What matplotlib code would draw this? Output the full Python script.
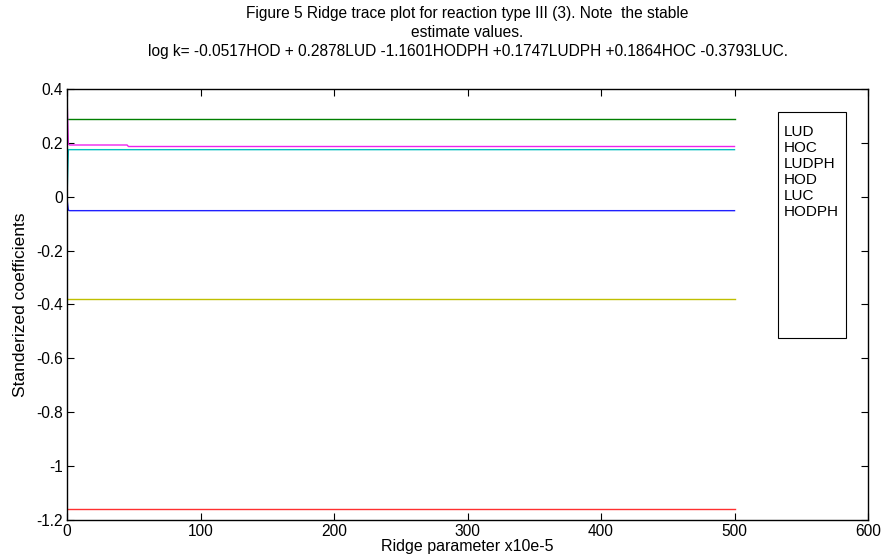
import matplotlib
matplotlib.use("Agg")
import matplotlib.pyplot as plt
from matplotlib.patches import Rectangle

plt.rcParams['font.family'] = ['Liberation Sans', 'DejaVu Sans']

# Ridge parameter (x10e-5)
k = [0, 1, 2, 45, 46, 500]

names = ["LUD", "HOC", "LUDPH", "HOD", "LUC", "HODPH"]
LUD = [0.2878, 0.2878, 0.2878, 0.2878, 0.2878, 0.2878]
HOC = [0.37, 0.196, 0.192, 0.192, 0.1864, 0.1864]
LUDPH = [0.0, 0.175, 0.1747, 0.1747, 0.1747, 0.1747]
HOD = [-0.01, -0.05, -0.0517, -0.0517, -0.0517, -0.0517]
LUC = [-0.3793, -0.3793, -0.3793, -0.3793, -0.3793, -0.3793]
HODPH = [-1.1601, -1.1601, -1.1601, -1.1601, -1.1601, -1.1601]

series = [LUD, HOC, LUDPH, HOD, LUC, HODPH]
colors = ["#007f00", "#ee22ee", "#00bfbf", "#2020ff", "#bfbf00", "#ff3030"]

title = ("Figure 5 Ridge trace plot for reaction type III (3). Note  the stable\n"
         "estimate values.\n"
         "log k= -0.0517HOD + 0.2878LUD -1.1601HODPH +0.1747LUDPH +0.1864HOC -0.3793LUC.")

fig = plt.figure(figsize=(8.89, 5.56), dpi=100)
ax = fig.add_axes([0.0754, 0.0647, 0.9010, 0.7753])

for s, c in zip(series, colors):
    ax.plot(k, s, color=c, lw=1.0)

ax.set_xlim(0, 600)
ax.set_ylim(-1.2, 0.4)
ax.set_xticks([0, 100, 200, 300, 400, 500, 600])
ax.set_yticks([-1.2, -1, -0.8, -0.6, -0.4, -0.2, 0, 0.2, 0.4])
ax.set_yticklabels(["-1.2", "-1", "-0.8", "-0.6", "-0.4", "-0.2", "0", "0.2", "0.4"])
ax.tick_params(direction='in', top=True, right=True, length=5, labelsize=11.2, pad=3)
for sp in ax.spines.values():
    sp.set_linewidth(1.0)

ax.set_xlabel("Ridge parameter x10e-5", fontsize=11.5, labelpad=0)
ax.set_ylabel("Standerized coefficients", fontsize=12.5, labelpad=6)
ax.set_title(title, fontsize=11.2, linespacing=1.33, pad=24)

# legend box with names only
ax.add_patch(Rectangle((0.8876, 0.4223), 0.0849, 0.5243, transform=ax.transAxes,
                       fill=True, facecolor='white', edgecolor='black', lw=0.8, zorder=5))
for i, n in enumerate(names):
    ax.text(0.8945, 0.900 - i * 0.0372, n, transform=ax.transAxes, fontsize=11,
            va='center', ha='left', zorder=6)

fig.savefig("out.png", dpi=100)
